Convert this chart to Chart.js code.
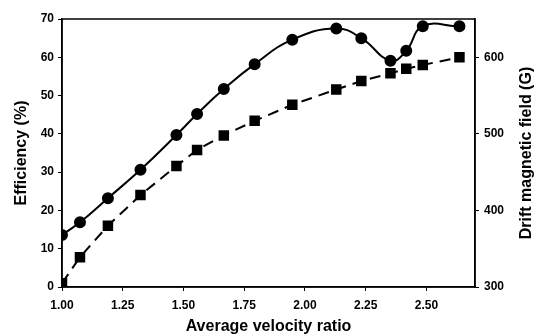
<!DOCTYPE html>
<html>
<head>
<meta charset="utf-8">
<script src="https://cdn.jsdelivr.net/npm/chart.js@4"></script>
<style>
  html, body { margin: 0; padding: 0; background: #fff; }
  canvas { display: block; }
</style>
</head>
<body>
<canvas id="effChart" width="536" height="336"></canvas>
<script>
  // velocity ratio values (shared by both series)
  const velocityRatio = [1.00, 1.074, 1.189, 1.323, 1.471, 1.556, 1.666, 1.793, 1.948, 2.129, 2.232, 2.352, 2.417, 2.485, 2.636];
  const efficiency = [13.6, 16.9, 23.2, 30.6, 39.7, 45.2, 51.7, 58.2, 64.6, 67.5, 65.0, 59.1, 61.7, 68.1, 68.1];
  const driftField = [305, 339, 380, 420, 458, 479, 498, 517, 538, 558, 569, 579, 585, 590, 600];
  const xTicks = [1.00, 1.25, 1.50, 1.75, 2.00, 2.25, 2.50];
  const effTicks = [0, 10, 20, 30, 40, 50, 60, 70];
  const fieldTicks = [300, 400, 500, 600];

  const tickFont = { family: "'Liberation Sans', Arial, sans-serif", size: 12, weight: "bold" };
  const titleFont = { family: "'Liberation Sans', Arial, sans-serif", size: 16, weight: "bold" };

  const framePlugin = {
    id: "frame",
    afterDraw(chart) {
      const { ctx, chartArea: a } = chart;
      ctx.save();
      ctx.strokeStyle = "#000";
      ctx.lineWidth = 1.5;
      ctx.strokeRect(a.left, a.top, a.right - a.left, a.bottom - a.top);
      // right axis title, reading bottom to top
      ctx.font = "bold 16px 'Liberation Sans', Arial, sans-serif";
      ctx.fillStyle = "#000";
      ctx.textAlign = "center";
      ctx.textBaseline = "middle";
      ctx.translate(527, (a.top + a.bottom) / 2);
      ctx.rotate(-Math.PI / 2);
      ctx.fillText("Drift magnetic field (G)", 0, 0);
      ctx.restore();
    }
  };

  function keepTicks(list) {
    return scale => {
      scale.ticks = list.map(v => ({ value: v }));
    };
  }

  new Chart(document.getElementById("effChart"), {
    type: "line",
    data: {
      datasets: [{
        label: "Efficiency",
        data: velocityRatio.map((x, i) => ({ x: x, y: efficiency[i] })),
        yAxisID: "y",
        borderColor: "#000",
        backgroundColor: "#000",
        borderWidth: 2,
        tension: 0.45,
        pointStyle: "circle",
        pointRadius: 5,
      }, {
        label: "Drift field",
        data: velocityRatio.map((x, i) => ({ x: x, y: driftField[i] })),
        yAxisID: "y1",
        borderColor: "#000",
        backgroundColor: "#000",
        borderWidth: 2,
        borderDash: [11, 7],
        tension: 0,
        pointStyle: "rect",
        pointRadius: 6,
      }],
    },
    options: {
      responsive: false,
      animation: false,
      layout: { padding: { top: 19, left: 0, right: 0, bottom: 0 } },
      plugins: {
        legend: { display: false },
        tooltip: { enabled: false }
      },
      scales: {
        x: {
          type: "linear",
          min: 1.0,
          max: 2.7,
          afterBuildTicks: keepTicks(xTicks),
          afterFit: s => { s.height = 49; },
          grid: { drawOnChartArea: false, color: "#000", tickLength: 4 },
          border: { color: "#000", width: 1.5 },
          ticks: {
            color: "#000",
            font: tickFont,
            padding: 7,
            maxRotation: 0,
            callback: v => v.toFixed(2)
          },
          title: { display: true, text: "Average velocity ratio", color: "#000", font: titleFont, padding: { top: 0, bottom: 0 } }
        },
        y: {
          position: "left",
          min: 0,
          max: 70,
          afterBuildTicks: keepTicks(effTicks),
          afterFit: s => { s.width = 62; },
          grid: { drawOnChartArea: false, color: "#000", tickLength: 4 },
          border: { color: "#000", width: 1.5 },
          ticks: { color: "#000", font: tickFont, padding: 4 },
          title: { display: true, text: "Efficiency (%)", color: "#000", font: titleFont, padding: { top: 12, bottom: 0 } }
        },
        y1: {
          position: "right",
          min: 300,
          max: 650,
          afterBuildTicks: keepTicks(fieldTicks),
          afterFit: s => { s.width = 61; },
          grid: { drawOnChartArea: false, color: "#000", tickLength: 4 },
          border: { color: "#000", width: 1.5 },
          ticks: { color: "#000", font: tickFont, padding: 5 }
        }
      }
    },
    plugins: [framePlugin]
  });
</script>
</body>
</html>
